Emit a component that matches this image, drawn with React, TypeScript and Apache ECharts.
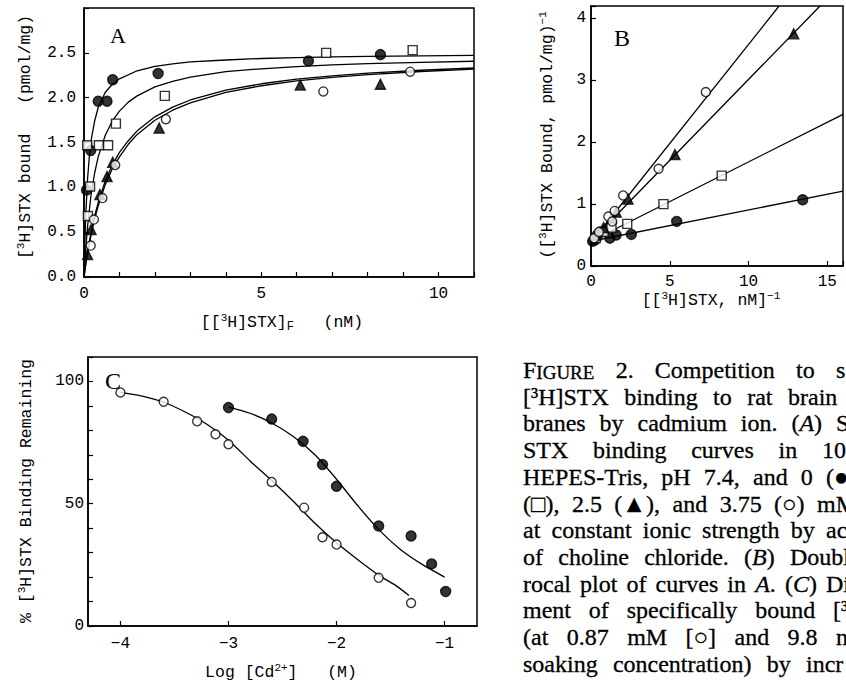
import React, { useEffect, useRef } from "react";
import * as echarts from "echarts";

// ---------- Panel A: saturation binding ----------
const aFilled = [[0.07, 0.97], [0.19, 1.41], [0.40, 1.96], [0.65, 1.96], [0.81, 2.2], [2.09, 2.27], [6.33, 2.41], [8.36, 2.48]];
const aSquare = [[0.11, 0.68], [0.17, 1.01], [0.09, 1.47], [0.42, 1.47], [0.68, 1.47], [0.9, 1.71], [2.28, 2.02], [6.83, 2.5], [9.27, 2.53]];
const aTriangle = [[0.1, 0.25], [0.2, 0.53], [0.45, 0.92], [0.65, 1.12], [0.81, 1.28], [2.12, 1.66], [6.1, 2.14], [8.36, 2.15]];
const aOpen = [[0.19, 0.35], [0.28, 0.64], [0.52, 0.88], [0.88, 1.25], [2.31, 1.76], [6.75, 2.07], [9.2, 2.29]];
const aCurve0 = [[0, 0], [0.02, 0.33], [0.05, 0.69], [0.1, 1.09], [0.15, 1.34], [0.2, 1.52], [0.3, 1.74], [0.4, 1.89], [0.6, 2.06], [0.8, 2.15], [1.0, 2.21], [1.5, 2.3], [2, 2.35], [2.5, 2.376], [3, 2.4], [4, 2.42], [5, 2.437], [6, 2.447], [7, 2.454], [8, 2.46], [9.5, 2.466], [11, 2.471]];
const aCurve125 = [[0, 0], [0.05, 0.32], [0.1, 0.56], [0.2, 0.92], [0.3, 1.16], [0.4, 1.34], [0.6, 1.58], [0.8, 1.74], [1.0, 1.85], [1.25, 1.95], [1.5, 2.02], [2, 2.12], [2.5, 2.183], [3, 2.23], [4, 2.29], [5, 2.322], [6, 2.347], [7, 2.365], [8, 2.379], [9.5, 2.394], [11, 2.406]];
const aCurve25 = [[0, 0], [0.05, 0.15], [0.1, 0.28], [0.2, 0.5], [0.3, 0.68], [0.4, 0.83], [0.6, 1.07], [0.8, 1.25], [1.0, 1.39], [1.25, 1.52], [1.5, 1.63], [2, 1.786], [2.5, 1.894], [3, 1.974], [4, 2.083], [5, 2.155], [6, 2.206], [7, 2.244], [8, 2.273], [9.5, 2.306], [11, 2.331]];
const aCurve375 = [[0, 0], [0.05, 0.14], [0.1, 0.26], [0.2, 0.47], [0.3, 0.65], [0.4, 0.79], [0.6, 1.03], [0.8, 1.21], [1.0, 1.34], [1.25, 1.48], [1.5, 1.59], [2, 1.748], [2.5, 1.86], [3, 1.943], [4, 2.058], [5, 2.133], [6, 2.187], [7, 2.226], [8, 2.257], [9.5, 2.292], [11, 2.319]];

// ---------- Panel B: double reciprocal ----------
const bFilled = [[0.1, 0.4], [0.25, 0.42], [0.4, 0.5], [0.6, 0.55], [1.2, 0.45], [1.6, 0.5], [2.56, 0.51], [5.44, 0.72], [13.44, 1.07]];
const bSquare = [[0.3, 0.45], [0.8, 0.55], [1.3, 0.62], [2.3, 0.68], [4.6, 1.0], [8.3, 1.46]];
const bTriangle = [[0.3, 0.5], [0.8, 0.62], [1.3, 0.78], [1.6, 0.87], [2.35, 1.08], [5.33, 1.8], [12.87, 3.75]];
const bOpen = [[0.2, 0.45], [0.5, 0.55], [1.1, 0.8], [1.35, 0.72], [1.5, 0.89], [2.04, 1.14], [4.29, 1.57], [7.29, 2.81]];
const bLine0 = [[0, 0.4], [16, 1.21]];
const bLine125 = [[0, 0.4], [16, 2.45]];
const bLine25 = [[0, 0.4], [14.54, 4.2]];
const bLine375 = [[0, 0.38], [11.94, 4.2]];

// ---------- Panel C: displacement by Cd2+ ----------
const cOpen = [[-4.0, 95.5], [-3.6, 91.7], [-3.29, 83.7], [-3.12, 78.4], [-3.0, 74.3], [-2.6, 58.9], [-2.3, 48.4], [-2.13, 36.3], [-2.0, 33.3], [-1.61, 19.7], [-1.31, 9.4]];
const cFilled = [[-3.0, 89.3], [-2.6, 84.6], [-2.31, 75.5], [-2.13, 66], [-2.0, 57.1], [-1.61, 40.9], [-1.31, 36.8], [-1.12, 25.4], [-0.99, 14.1]];
const cOpenCurve = [[-4, 95.5], [-3.8, 94], [-3.6, 91.5], [-3.4, 87.5], [-3.2, 82.5], [-3.0, 76], [-2.8, 67.5], [-2.6, 59.5], [-2.4, 51], [-2.2, 42], [-2.0, 34], [-1.8, 27], [-1.6, 20.5], [-1.45, 16.5], [-1.33, 12.5]];
const cFilledCurve = [[-3.0, 89.5], [-2.8, 87], [-2.6, 83], [-2.4, 77.5], [-2.2, 70], [-2.0, 60], [-1.8, 49], [-1.6, 39], [-1.4, 31], [-1.2, 25], [-1.0, 20]];

// ---------- tick labels ----------
const aXLabels = [0, 5, 10];
const aYLabels = [0, 0.5, 1, 1.5, 2, 2.5];
const bXLabels = [0, 5, 10, 15];
const bYLabels = [0, 1, 2, 3, 4];
const cXTicks = [-4, -3, -2, -1];
const cYLabels = [0, 50, 100];

// ---------- caption ----------
const captionLines = [
  "FIGURE 2. Competition to s",
  "[³H]STX binding to rat brain",
  "branes by cadmium ion. (_A_) S",
  "STX binding curves in 10",
  "HEPES-Tris, pH 7.4, and 0 (●",
  "(□), 2.5 (▲), and 3.75 (○) mM",
  "at constant ionic strength by ac",
  "of choline chloride. (_B_) Double",
  "rocal plot of curves in _A_. (_C_) Di",
  "ment of specifically bound [³",
  "(at 0.87 mM [○] and 9.8 n",
  "soaking concentration) by incr",
];
const captionLastX = [836, 788, 836, 822, 826, 817, 826, 790, 826, 833, 836, 806];

const MONO = '"Liberation Mono", "DejaVu Sans Mono", monospace';
const SERIF = '"Liberation Serif", "DejaVu Serif", serif';
const CAP = 24;

function parseWord(w: string): [string, string][] {
  if (w === "FIGURE") return [["F", "n"], ["IGURE", "sc"]];
  const segs: [string, string][] = [];
  w.split("_").forEach((p, i) => {
    if (p) segs.push([p, i % 2 === 1 ? "i" : "n"]);
  });
  return segs;
}

function capFont(s: string) {
  if (s === "i") return `italic ${CAP}px ${SERIF}`;
  if (s === "sc") return `${Math.round(CAP * 0.78)}px ${SERIF}`;
  return `${CAP}px ${SERIF}`;
}

function buildCaption(): any[] {
  const ctx = document.createElement("canvas").getContext("2d")!;
  const measure = (segs: [string, string][]) =>
    segs.reduce((acc, [t, s]) => {
      ctx.font = capFont(s);
      return acc + ctx.measureText(t).width;
    }, 0);
  const base = { fontFamily: SERIF, verticalAlign: "bottom", fill: "#000", stroke: "#000", lineWidth: 0.3 };
  const rich = {
    n: { ...base, fontSize: CAP },
    i: { ...base, fontSize: CAP, fontStyle: "italic" },
    sc: { ...base, fontSize: Math.round(CAP * 0.78) },
  };
  const x0 = 523;
  const y0 = 370;
  const dy = 26.7;
  const els: any[] = [];
  captionLines.forEach((line, li) => {
    const words = line.split(" ").map(parseWord);
    const widths = words.map(measure);
    const n = words.length;
    const sumBefore = widths.slice(0, n - 1).reduce((a, b) => a + b, 0);
    const gap = n > 1 ? Math.max(4, (captionLastX[li] - x0 - sumBefore) / (n - 1)) : 0;
    let x = x0;
    words.forEach((segs, wi) => {
      els.push({
        type: "text",
        x,
        y: y0 + li * dy,
        silent: true,
        style: {
          text: segs.map(([t, s]) => `{${s}|${t}}`).join(""),
          rich,
          font: `${CAP}px ${SERIF}`,
          fill: "#000",
          align: "left",
          verticalAlign: "middle",
        },
      });
      x += widths[wi] + gap;
    });
  });
  return els;
}

const supStyle = { fontFamily: MONO, fontSize: 11, padding: [0, 0, 8, 0], fill: "#000" };
const subStyle = { fontFamily: MONO, fontSize: 12, padding: [9, 0, 0, 0], fill: "#000" };

function title(text: string, x: number, y: number, rotate = false) {
  return {
    type: "text",
    x,
    y,
    rotation: rotate ? Math.PI / 2 : 0,
    silent: true,
    style: {
      text,
      rich: { sup: supStyle, sub: subStyle },
      font: `16.5px ${MONO}`,
      fill: "#000",
      align: "center",
      verticalAlign: "middle",
    },
  };
}

function letter(t: string, x: number, y: number, size: number) {
  return {
    type: "text",
    x,
    y,
    silent: true,
    style: { text: t, font: `${size}px ${SERIF}`, fill: "#000", align: "center", verticalAlign: "middle" },
  };
}

const S = "\u00A0";

export default function App() {
  const ref = useRef<HTMLDivElement>(null);
  useEffect(() => {
    document.body.style.margin = "0";
    const chart = echarts.init(ref.current!, null, { renderer: "svg" });
    const axisLine = { show: true, lineStyle: { color: "#000", width: 1.5 } };
    const axisTick = { show: true, inside: true, length: 5, lineStyle: { color: "#000", width: 1.2 } };
    const label = { color: "#000", fontFamily: MONO, fontSize: 16 };
    const grid = { show: true, borderColor: "#000", borderWidth: 1.5, backgroundColor: "transparent" };
    const line = (data: number[][], gi: number, smooth: number | false) => ({
      type: "line",
      data,
      xAxisIndex: gi,
      yAxisIndex: gi,
      showSymbol: false,
      smooth,
      lineStyle: { color: "#000", width: 1.3 },
      z: 2,
      silent: true,
    });
    const pts = (data: number[][], gi: number, symbol: string, filled: boolean, size: number) => ({
      type: "scatter",
      data,
      xAxisIndex: gi,
      yAxisIndex: gi,
      symbol,
      symbolSize: size,
      itemStyle: { color: filled ? "#000" : "#fff", borderColor: "#000", borderWidth: 1.4 },
      z: 3,
      silent: true,
    });
    const minus = (v: number) => (v < 0 ? "\u2212" + Math.abs(v) : String(v));
    chart.setOption({
      animation: false,
      backgroundColor: "#fff",
      grid: [
        { ...grid, left: 84, top: 8, width: 390, height: 269 },
        { ...grid, left: 591, top: 6, width: 256, height: 260 },
        { ...grid, left: 88, top: 357, width: 389, height: 269 },
      ],
      xAxis: [
        {
          gridIndex: 0, type: "value", min: 0, max: 11, interval: 1,
          axisLine, axisTick, splitLine: { show: false },
          axisLabel: { ...label, margin: 9, formatter: (v: number) => (aXLabels.includes(v) ? String(v) : "") },
        },
        {
          gridIndex: 1, type: "value", min: 0, max: 16, interval: 5,
          axisLine, axisTick, splitLine: { show: false },
          axisLabel: { ...label, margin: 8, formatter: (v: number) => (bXLabels.includes(v) ? String(v) : "") },
        },
        {
          gridIndex: 2, type: "value", min: -4.3, max: -0.7,
          axisLine,
          axisTick: { ...axisTick, customValues: cXTicks },
          splitLine: { show: false },
          axisLabel: { ...label, margin: 10, customValues: cXTicks, formatter: (v: number) => minus(v) },
        },
      ],
      yAxis: [
        {
          gridIndex: 0, type: "value", min: 0, max: 3, interval: 0.5,
          axisLine, axisTick, splitLine: { show: false },
          axisLabel: { ...label, margin: 8, formatter: (v: number) => (aYLabels.includes(v) ? v.toFixed(1) : "") },
        },
        {
          gridIndex: 1, type: "value", min: 0, max: 4.2, interval: 1,
          axisLine, axisTick, splitLine: { show: false },
          axisLabel: { ...label, margin: 5, formatter: (v: number) => (bYLabels.includes(v) ? String(v) : "") },
        },
        {
          gridIndex: 2, type: "value", min: 0, max: 110, interval: 10,
          axisLine, axisTick, splitLine: { show: false },
          axisLabel: { ...label, margin: 4, formatter: (v: number) => (cYLabels.includes(v) ? String(v) : "") },
        },
      ],
      series: [
        line(aCurve0, 0, false), line(aCurve125, 0, false), line(aCurve25, 0, false), line(aCurve375, 0, false),
        pts(aFilled, 0, "circle", true, 10),
        pts(aSquare, 0, "rect", false, 9),
        pts(aTriangle, 0, "triangle", true, 10),
        pts(aOpen, 0, "circle", false, 9),
        line(bLine0, 1, false), line(bLine125, 1, false), line(bLine25, 1, false), line(bLine375, 1, false),
        pts(bFilled, 1, "circle", true, 10),
        pts(bSquare, 1, "rect", false, 9),
        pts(bTriangle, 1, "triangle", true, 10),
        pts(bOpen, 1, "circle", false, 9),
        line(cOpenCurve, 2, 0.2), line(cFilledCurve, 2, 0.2),
        pts(cOpen, 2, "circle", false, 9),
        pts(cFilled, 2, "circle", true, 10),
      ],
      graphic: [
        letter("A", 118, 35, 22),
        letter("B", 622, 38, 24),
        letter("C", 113, 381, 24),
        title(`[{sup|3}H]STX bound${S}${S}${S}(pmol/mg)`, 25, 137, true),
        title(`[[{sup|3}H]STX]{sub|F}${S}${S}${S}(nM)`, 282, 322),
        title(`([{sup|3}H]STX Bound, pmol/mg){sup|\u22121}`, 547, 135, true),
        title(`[[{sup|3}H]STX, nM]{sup|\u22121}`, 711, 300),
        title(`%${S}[{sup|3}H]STX Binding Remaining`, 26, 491, true),
        title(`Log [Cd{sup|2+}]${S}${S}${S}(M)`, 281, 672),
        ...buildCaption(),
      ],
    });
    return () => chart.dispose();
  }, []);
  return <div ref={ref} style={{ width: 846, height: 685, overflow: "hidden" }} />;
}
